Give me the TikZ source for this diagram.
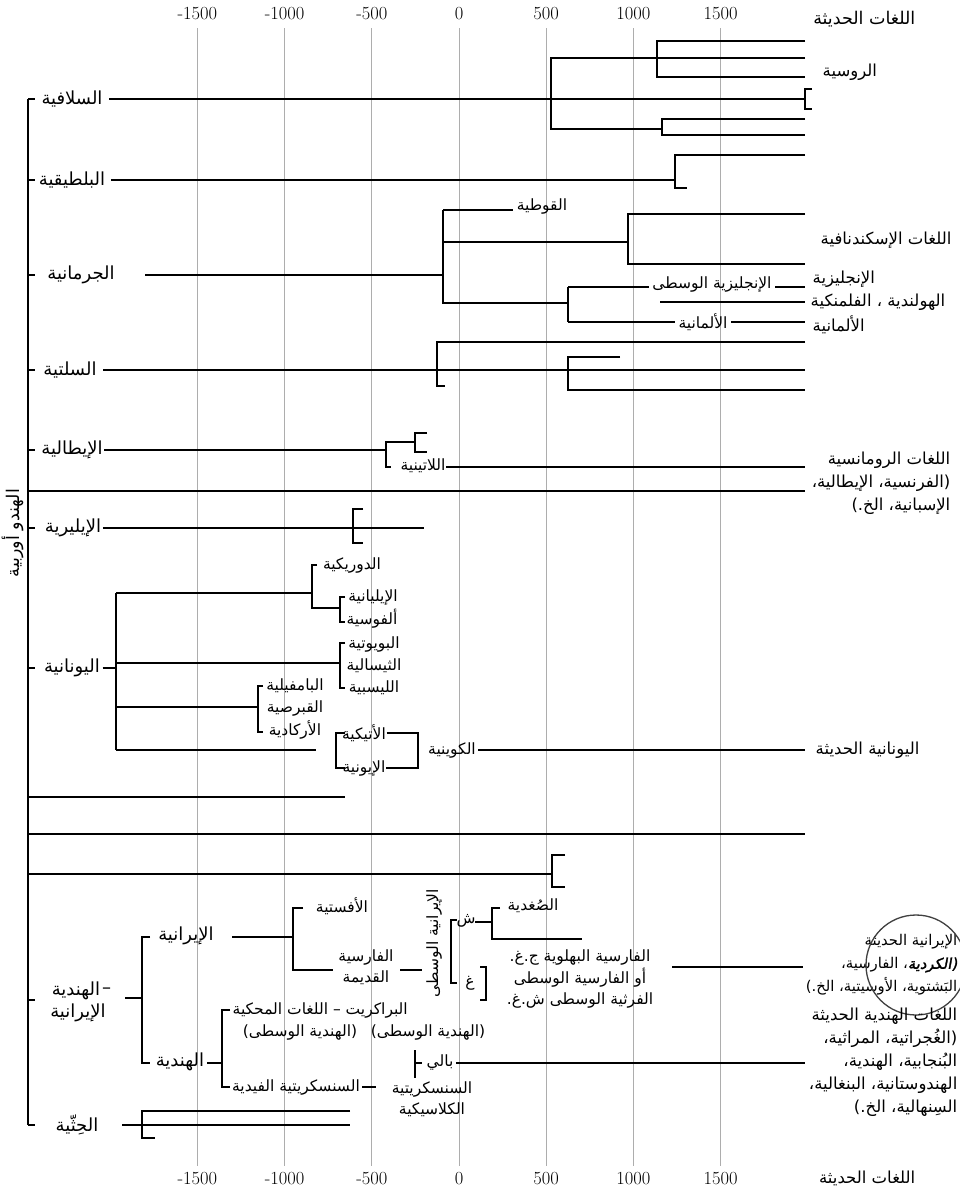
\documentclass[tikz,border=0pt]{standalone}
\usepackage{fontspec}
\newfontfamily\arabicfont[Script=Arabic]{DejaVu Sans}
\newfontfamily\arabicbf[Script=Arabic,FakeBold=2,FakeSlant=0.18]{DejaVu Sans}
\TeXXeTstate=1
\newcommand{\AR}[1]{{\arabicfont\beginR#1\endR}}
\tikzset{
  ln/.style={line width=1.1pt},
  gridl/.style={line width=0.8pt, black!32},
  yr/.style={font=\fontsize{18.5}{18.5}\selectfont, inner sep=0pt},
  big/.style={font=\fontsize{18}{22}\selectfont, inner sep=0.5pt},
  sm/.style={font=\fontsize{15.5}{21.5}\selectfont, inner sep=0.5pt},
  rl/.style={font=\fontsize{16.5}{23}\selectfont, inner sep=0.5pt},
}
\begin{document}
\begin{tikzpicture}[x=1pt,y=-1pt]
\useasboundingbox (0,0) rectangle (960,1191);
\fill[white] (0,0) rectangle (960,1191);
% grid and years
\foreach \v/\x [count=\i] in {-1500/197.4,-1000/284.6,-500/371.8,0/459,500/546.2,1000/633.4,1500/720.6}{
  \coordinate (gt\i) at (\x,28);
  \coordinate (gb\i) at (\x,1166);
  \draw[gridl] (gt\i) -- (gb\i);
  \node[yr] (yt\i) at (\x,14) {\v};
  \node[yr] (yb\i) at (\x,1179) {\v};
}
\node[rl,anchor=east,font=\fontsize{17.5}{23}\selectfont] (modT) at (916,19) {\AR{اللغات الحديثة}};
\node[rl,anchor=east] (modB) at (916,1178) {\AR{اللغات الحديثة}};
% spine
\coordinate (spT) at (28,99);
\coordinate (spB) at (28,1125);
\draw[ln] (spT) -- (spB);
\foreach \yy in {99,180,275,370,450,528,668,1000,1125}{\draw[ln] (28,\yy) -- (35,\yy);}
\node[sm,rotate=90,font=\fontsize{17.5}{20}\selectfont] (ie) at (13,533) {\AR{الهندو أوربية}};
% Slavic
\node[big] (sla) at (72,99) {\AR{السلافية}};
\draw[ln] ([xshift=6]sla.east) -- (805,99);
\draw[ln] (812,89) -- (805,89) -- (805,109) -- (812,109);
\draw[ln] (805,58) -- (551,58) -- (551,129) -- (662,129);
\draw[ln] (805,41) -- (657,41) -- (657,77) -- (805,77);
\draw[ln] (805,119) -- (662,119) -- (662,135) -- (805,135);
\node[rl,anchor=west] (rus) at (822,72) {\AR{الروسية}};
% Baltic
\node[big] (bal) at (72,180) {\AR{البلطيقية}};
\draw[ln] ([xshift=5]bal.east) -- (675,180);
\draw[ln] (805,155) -- (675,155) -- (675,188) -- (687,188);
% Germanic
\node[big] (ger) at (81,275) {\AR{الجرمانية}};
\draw[ln] (145,275) -- (443,275);
\draw[ln] (443,210) -- (443,303) -- (568,303);
\node[sm] (got) at (542,207) {\AR{القوطية}};
\draw[ln] (443,210) -- ([xshift=-3]got.west |- 0,210);
\draw[ln] (443,242) -- (628,242);
\draw[ln] (805,214) -- (628,214) -- (628,264) -- (805,264);
\node[rl,anchor=west] (scand) at (820,240) {\AR{اللغات الإسكندنافية}};
\draw[ln] (568,287) -- (568,322);
\node[sm] (meng) at (712,284) {\AR{الإنجليزية الوسطى}};
\draw[ln] (568,287) -- ([xshift=-3]meng.west |- 0,287);
\draw[ln] ([xshift=3]meng.east |- 0,287) -- (805,287);
\node[rl,anchor=west] (eng) at (812,279) {\AR{الإنجليزية}};
\draw[ln] (660,302) -- (805,302);
\node[rl,anchor=west] (dut) at (810,302) {\AR{الهولندية ، الفلمنكية}};
\node[sm] (ohg) at (703,322) {\AR{الألمانية}};
\draw[ln] (568,322) -- ([xshift=-3]ohg.west |- 0,322);
\draw[ln] ([xshift=3]ohg.east |- 0,322) -- (805,322);
\node[rl,anchor=west] (deu) at (812,325) {\AR{الألمانية}};
% Celtic
\node[big] (cel) at (70,370) {\AR{السلتية}};
\draw[ln] (103,370) -- (805,370);
\draw[ln] (805,342) -- (437,342) -- (437,386) -- (445,386);
\draw[ln] (620,357) -- (568,357) -- (568,390) -- (805,390);
% Italic
\node[big] (ita) at (72,450) {\AR{الإيطالية}};
\draw[ln] ([xshift=1]ita.east) -- (386,450);
\draw[ln] (415,442) -- (386,442) -- (386,467) -- (391,467);
\draw[ln] (427,433) -- (415,433) -- (415,452) -- (427,452);
\node[sm] (lat) at (423,466) {\AR{اللاتينية}};
\draw[ln] (lat.east |- 0,467) -- (805,467);
\node[rl,align=right,anchor=east] (rom) at (951,483) {\AR{اللغات الرومانسية}\\\AR{(الفرنسية، الإيطالية،}\\\AR{الإسبانية، الخ.)}};
\draw[ln] (28,491) -- (805,491);
% Illyrian
\node[big] (ill) at (73,528) {\AR{الإيليرية}};
\draw[ln] ([xshift=1]ill.east) -- (424,528);
\draw[ln] (363,509) -- (353,509) -- (353,543) -- (363,543);
% Greek
\node[big] (gre) at (72,668) {\AR{اليونانية}};
\draw[ln] ([xshift=2]gre.east) -- (116,668);
\draw[ln] (116,593) -- (116,750);
\draw[ln] (116,593) -- (312,593);
\draw[ln] (317,565) -- (312,565) -- (312,608) -- (340,608);
\node[sm] (dor) at (352,565) {\AR{الدوريكية}};
\draw[ln] (345,597) -- (340,597) -- (340,622) -- (345,622);
\node[sm] (ele) at (373,597) {\AR{الإيليانية}};
\node[sm] (pho) at (372,619) {\AR{ألفوسية}};
\draw[ln] (116,663) -- (340,663);
\draw[ln] (345,643) -- (340,643) -- (340,688) -- (345,688);
\node[sm] (boe) at (374,644) {\AR{البويوتية}};
\node[sm] (the) at (374,666) {\AR{الثيسالية}};
\node[sm] (les) at (374,688) {\AR{الليسبية}};
\draw[ln] (116,707) -- (258,707);
\draw[ln] (263,686) -- (258,686) -- (258,732) -- (263,732);
\node[sm] (pam) at (295,686) {\AR{البامفيلية}};
\node[sm] (cyp) at (295,708) {\AR{القبرصية}};
\node[sm] (arc) at (295,730) {\AR{الأركادية}};
\draw[ln] (116,750) -- (316,750);
\draw[ln] (345,733) -- (336,733) -- (336,768) -- (345,768);
\node[sm] (att) at (364,733) {\AR{الأتيكية}};
\node[sm] (ion) at (364,768) {\AR{الإيونية}};
\draw[ln] (att.east |- 0,733) -- (418,733) -- (418,768) -- (ion.east |- 0,768);
\node[sm] (koi) at (452,750) {\AR{الكوينية}};
\draw[ln] ([xshift=2]koi.east) -- (805,750);
\node[rl,anchor=west] (mgr) at (815,750) {\AR{اليونانية الحديثة}};
% unnamed branches
\draw[ln] (28,797) -- (345,797);
\draw[ln] (28,834) -- (805,834);
\draw[ln] (28,874) -- (552,874);
\draw[ln] (565,855) -- (552,855) -- (552,887) -- (565,887);
% Indo-Iranian
\node[big] (ii1) at (76,991) {\AR{الهندية}};
\node[big,anchor=west,inner sep=0pt] (iid) at ([xshift=1]ii1.east) {\arabicfont –};
\node[big] (ii2) at (78,1013) {\AR{الإيرانية}};
\draw[ln] (125,998) -- (142,998);
\draw[ln] (150,937) -- (142,937) -- (142,1063) -- (150,1063);
\node[big] (ira) at (186,936) {\AR{الإيرانية}};
\draw[ln] (232,937) -- (293,937);
\draw[ln] (303,908) -- (293,908) -- (293,970) -- (333,970);
\node[sm] (ave) at (342,906) {\AR{الأفستية}};
\node[sm,align=center] (ope) at (366,967) {\AR{الفارسية}\\\AR{القديمة}};
\draw[ln] (400,970) -- (422,970);
\node[sm,rotate=90] (mir) at (434,943) {\AR{الإيرانية الوسطى}};
\draw[ln] (457,920) -- (451,920) -- (451,983) -- (457,983);
\node[sm] (sh) at (466,921) {\AR{ش}};
\draw[ln] (475,922) -- (492,922);
\draw[ln] (500,908) -- (492,908) -- (492,939) -- (582,939);
\node[sm] (sog) at (533,906) {\AR{الصُغدية}};
\node[sm] (gh) at (470,983) {\AR{غ}};
\draw[ln] (480,967) -- (486,967) -- (486,1000) -- (480,1000);
\node[sm,align=center] (pah) at (580,979) {\AR{الفارسية البهلوية ج.غ.}\\\AR{أو الفارسية الوسطى}\\\AR{الفرثية الوسطى ش.غ.}};
\draw[ln] (672,967) -- (803,967);
\node[rl,align=right,anchor=east,font=\fontsize{14.8}{23}\selectfont] (mir2) at (958,965) {\AR{الإيرانية الحديثة}\\\AR{{\arabicbf(الكردية}، الفارسية،}\\\AR{البَشتوية، الأوسيتية، الخ.)}};
\draw[line width=1.3pt, black!75] (916,965) circle (50);
% Indian
\node[big] (ind) at (180,1062) {\AR{الهندية}};
\draw[ln] (207,1063) -- (222,1063);
\draw[ln] (230,1010) -- (222,1010) -- (222,1087) -- (230,1087);
\node[sm,anchor=west] (pra) at (232,1010) {\AR{البراكريت – اللغات المحكية}};
\node[sm] (mi1) at (300,1032) {\AR{(الهندية الوسطى)}};
\node[sm] (mi2) at (428,1032) {\AR{(الهندية الوسطى)}};
\draw[ln] (415,1050) -- (415,1078);
\draw[ln] (415,1063) -- (422,1063);
\node[sm] (pal) at (440,1062) {\AR{بالي}};
\draw[ln] ([xshift=2]pal.east |- 0,1063) -- (805,1063);
\node[sm] (ved) at (296,1087) {\AR{السنسكريتية الفيدية}};
\draw[ln] (362,1087) -- (376,1087);
\node[sm,align=center] (cls) at (432,1099) {\AR{السنسكريتية}\\\AR{الكلاسيكية}};
\node[rl,align=right,anchor=east] (mind) at (958,1062) {\AR{اللغات الهندية الحديثة}\\\AR{(الغُجراتية، المراثية،}\\\AR{البُنجابية، الهندية،}\\\AR{الهندوستانية، البنغالية،}\\\AR{السِنهالية، الخ.)}};
% Hittite
\node[big] (hit) at (77,1125) {\AR{الحِثّية}};
\draw[ln] (122,1125) -- (350,1125);
\draw[ln] (350,1111) -- (142,1111) -- (142,1138) -- (155,1138);
\end{tikzpicture}
\end{document}
